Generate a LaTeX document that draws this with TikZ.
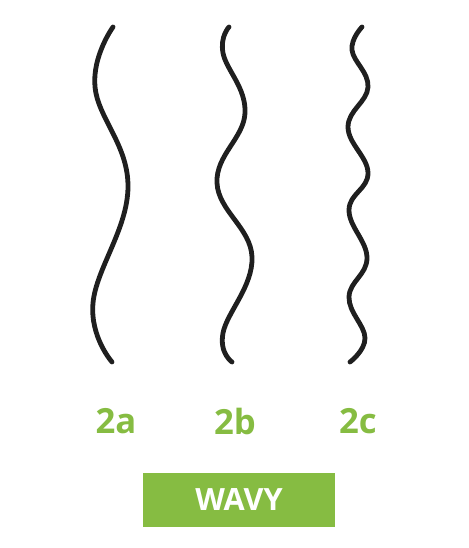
\documentclass[tikz,border=0pt]{standalone}
\usepackage{xcolor}
\usepackage{fontspec}
\setmainfont{Open Sans}
\usepackage{tikz}
\usetikzlibrary{calc}

\definecolor{wavygreen}{HTML}{86BC42}
\tikzset{
    curl/.style={line width=3.6pt, line cap=round, color=black!88},
    typelabel/.style={text=wavygreen, font=\fontsize{26}{30}\selectfont\bfseries},
    typebox/.style={fill=wavygreen, text=white, minimum width=144pt, minimum height=40.5pt,
        inner sep=0pt, font=\fontsize{23}{27}\selectfont\bfseries}
}

\begin{document}
\begin{tikzpicture}[x=0.75pt,y=-0.75pt]
\useasboundingbox (0,0) rectangle (468,548);

\draw[curl] plot[smooth, tension=0.7] coordinates {(113,27) (95,87) (128,187) (93,303) (112,362)};
\draw[curl] plot[smooth, tension=0.7] coordinates {(229,27) (223,53) (245,113) (217,183) (252,257) (223,333) (232,362)};
\draw[curl] plot[smooth, tension=0.7] coordinates {(362,27) (352,50) (368,87) (348,127) (368,173) (349,210) (367,258) (349,297) (365,338) (350,362)};

\foreach \lbl/\cx in {a/116, b/235, c/358}
    \node[typelabel] (label2\lbl) at (\cx,421) {2\lbl};

\node[typebox] (wavy) at (239,500) {WAVY};

\end{tikzpicture}
\end{document}
